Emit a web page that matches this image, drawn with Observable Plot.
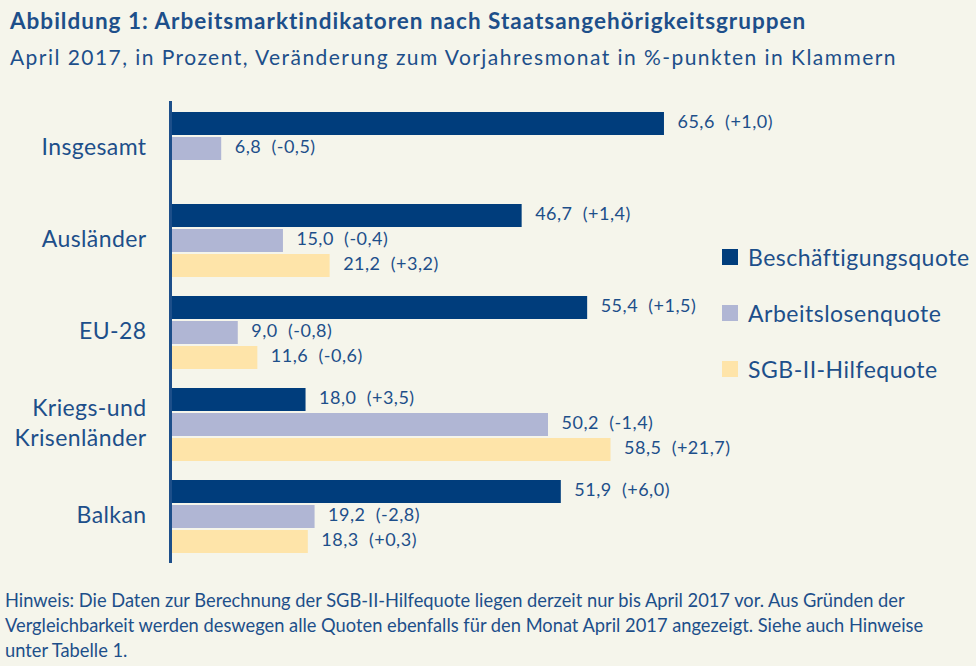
<!DOCTYPE html>
<html><head><meta charset="utf-8">
<script src="https://cdn.jsdelivr.net/npm/d3@7"></script>
<script src="https://cdn.jsdelivr.net/npm/@observablehq/plot@0.6"></script>
<style>
html,body{margin:0;padding:0;background:#f5f5eb;}
body{width:976px;height:666px;position:relative;overflow:hidden;font-family:Lato,"Open Sans",sans-serif;color:#1d4f8a;}
#title{position:absolute;left:10px;top:7px;font-size:22.5px;letter-spacing:1px;font-weight:bold;white-space:nowrap;}
#subtitle{position:absolute;left:10px;top:44px;font-size:21px;letter-spacing:1.45px;white-space:nowrap;}
#chart{position:absolute;left:0;top:88px;}
#legend{position:absolute;left:722px;top:243px;font-size:23px;letter-spacing:0.5px;}
.li{display:flex;align-items:center;height:28px;margin-bottom:28px;white-space:nowrap;}
.sw{width:16px;height:16px;margin-right:10px;}
#note{position:absolute;left:5px;top:588px;font-size:18.3px;line-height:25px;white-space:nowrap;}
</style></head>
<body>
<div id="title">Abbildung 1: Arbeitsmarktindikatoren nach Staatsangehörigkeitsgruppen</div>
<div id="subtitle">April 2017, in Prozent, Veränderung zum Vorjahresmonat in %-punkten in Klammern</div>
<div id="chart"></div>
<div id="legend"></div>
<div id="note">Hinweis: Die Daten zur Berechnung der SGB-II-Hilfequote liegen derzeit nur bis April 2017 vor. Aus Gründen der<br>Vergleichbarkeit werden deswegen alle Quoten ebenfalls für den Monat April 2017 angezeigt. Siehe auch Hinweise<br>unter Tabelle 1.</div>
<script>
const categories = ["Insgesamt", "Ausländer", "EU-28", "Kriegs-und Krisenländer", "Balkan"];
const series = ["Beschäftigungsquote", "Arbeitslosenquote", "SGB-II-Hilfequote"];
const colors = ["#003d7c", "#b0b6d4", "#fee4a9"];
const beschaeftigung = [65.6, 46.7, 55.4, 18.0, 51.9];
const beschaeftigungChange = [1.0, 1.4, 1.5, 3.5, 6.0];
const arbeitslos = [6.8, 15.0, 9.0, 50.2, 19.2];
const arbeitslosChange = [-0.5, -0.4, -0.8, -1.4, -2.8];
const sgb = [null, 21.2, 11.6, 58.5, 18.3];
const sgbChange = [null, 3.2, -0.6, 21.7, 0.3];

const values = [beschaeftigung, arbeitslos, sgb];
const changes = [beschaeftigungChange, arbeitslosChange, sgbChange];
const data = [];
categories.forEach((c, i) => {
  series.forEach((s, j) => {
    if (values[j][i] != null) data.push({cat: c, series: s, value: values[j][i], change: changes[j][i]});
  });
});
const fmt = v => v.toFixed(1).replace(".", ",");
const label = d => `${fmt(d.value)}  (${d.change >= 0 ? "+" : "-"}${fmt(Math.abs(d.change))})`;

const textColor = "#1d4f8a";
const chart = Plot.plot({
  width: 976,
  height: 480,
  marginLeft: 170,
  marginRight: 53,
  marginTop: 23,
  marginBottom: 15,
  style: {background: "transparent", fontFamily: "Lato, 'Open Sans', sans-serif", color: textColor},
  x: {domain: [0, 100], axis: null},
  y: {domain: series, axis: null, paddingInner: 0.1, paddingOuter: 0},
  fy: {domain: categories, paddingInner: 0.2, paddingOuter: 0, label: null, axis: null},
  color: {domain: series, range: colors},
  marks: [
    Plot.axisFy({anchor: "left", label: null, tickSize: 0, tickPadding: 24, fontSize: 23, lineHeight: 1.3, dy: -3,
      tickFormat: d => d.replace("Kriegs-und ", "Kriegs-und\n"), fill: textColor}),
    Plot.barX(data, {x: "value", y: "series", fy: "cat", fill: "series"}),
    Plot.text(data, {x: "value", y: "series", fy: "cat", text: label, dx: 13, dy: -2, textAnchor: "start", fontSize: 18, fill: textColor}),
    Plot.ruleX(categories, {x: () => 0, fy: d => d, stroke: textColor, strokeWidth: 3, insetTop: -10, insetBottom: -10})
  ]
});
document.getElementById("chart").appendChild(chart);
d3.select(chart).selectAll("g[aria-label='text'] text").attr("letter-spacing", "0.5px");
d3.select(chart).selectAll("g[aria-label='fy-axis tick label'] text").attr("letter-spacing", "0.4px");

const leg = document.getElementById("legend");
series.forEach((s, i) => {
  const row = document.createElement("div");
  row.className = "li";
  row.innerHTML = `<div class="sw" style="background:${colors[i]}"></div><span>${s}</span>`;
  leg.appendChild(row);
});
</script>
</body></html>
